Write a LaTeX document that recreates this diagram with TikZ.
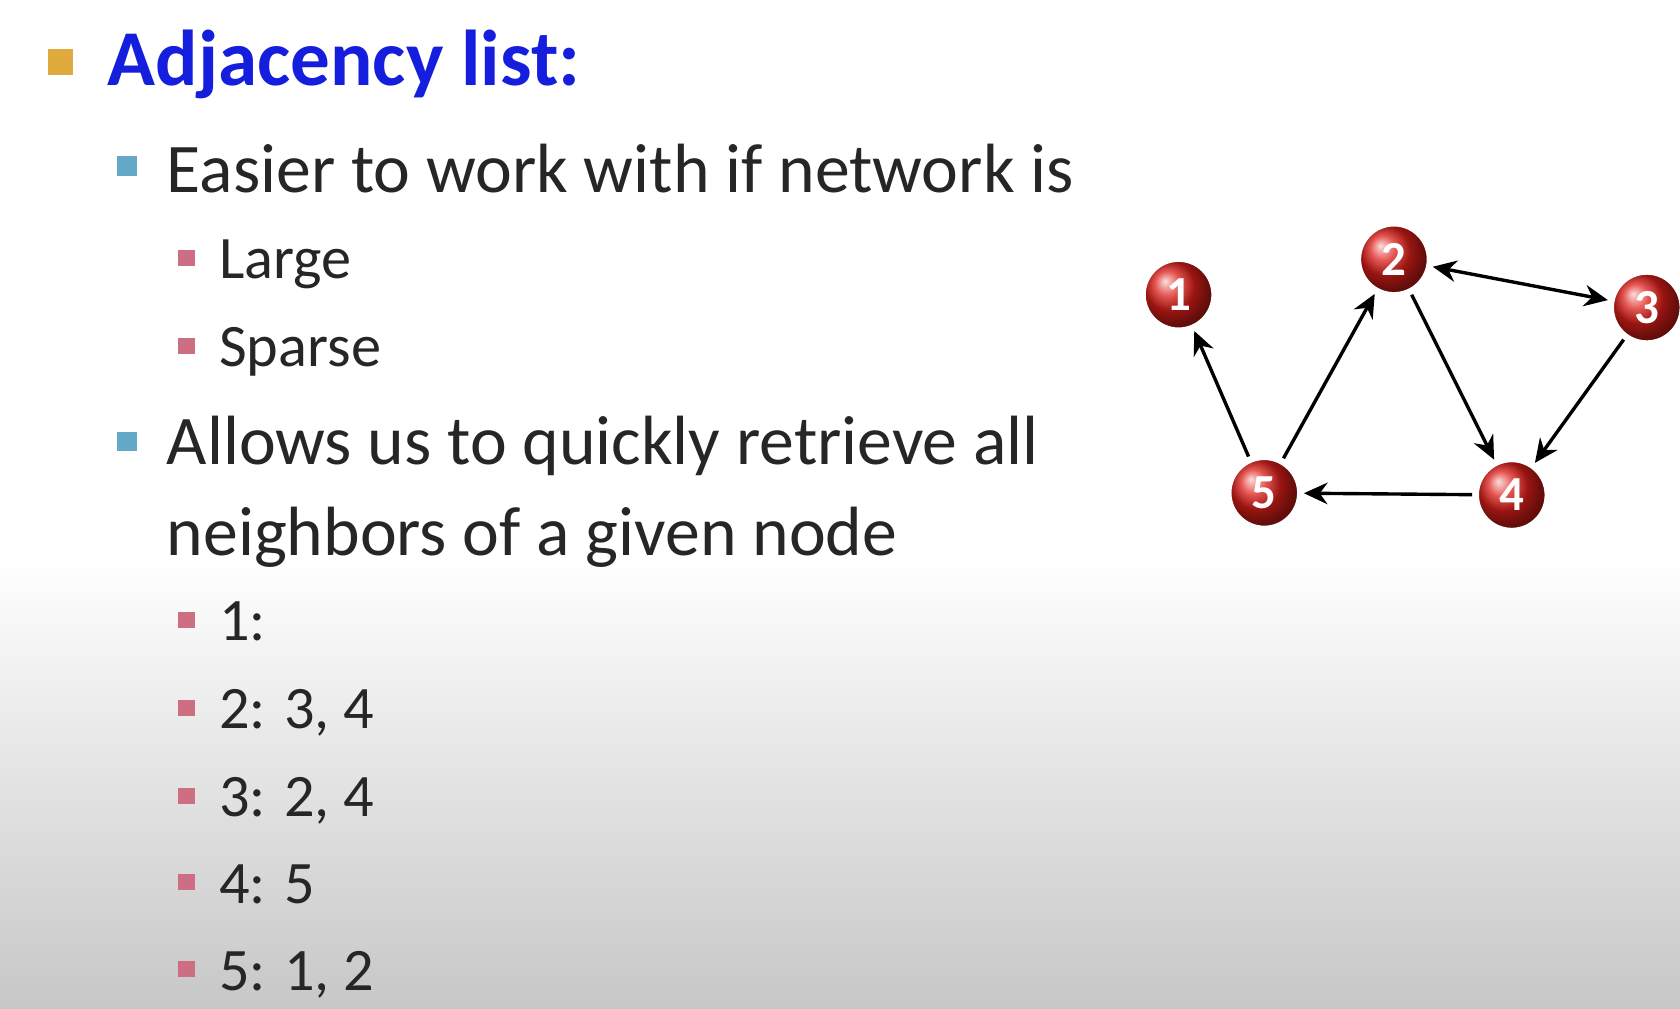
\documentclass[tikz,border=0pt]{standalone}
\usepackage{fontspec}
\setmainfont{Carlito}
\usetikzlibrary{arrows.meta}
\definecolor{titleblue}{RGB}{20,30,220}
\definecolor{bulorange}{RGB}{225,170,60}
\definecolor{bulblue}{RGB}{100,170,200}
\definecolor{bulpink}{RGB}{205,110,130}
\definecolor{nodered}{RGB}{220,30,25}
\tikzset{
  lvlzero/.style={anchor=base west,font=\fontsize{21}{25}\selectfont\bfseries,text=titleblue,inner sep=0},
  lvlone/.style={anchor=base west,font=\fontsize{18.5}{22}\selectfont,text=black!85,inner sep=0,align=left},
  lvltwo/.style={anchor=base west,font=\fontsize{16}{19}\selectfont,text=black!85,inner sep=0},
  gnode/.style={circle,minimum size=0.64cm,inner sep=0,ball color=nodered,draw=white,line width=0.8pt,text=white,font=\fontsize{13}{13}\selectfont\bfseries},
  edge/.style={-{Stealth[length=2.2mm,width=2mm]},line width=0.9pt,shorten >=1pt,shorten <=1pt},
  sq/.style={inner sep=0,minimum size=#1},
}
\begin{document}
\begin{tikzpicture}[x=0.01cm,y=-0.01cm]
\useasboundingbox (0,0) rectangle (1568,941);
\fill[white] (0,0) rectangle (1568,520);
\shade[top color=white,bottom color=black!22] (0,520) rectangle (1568,941);
% bullets
\fill[bulorange] (45,46) rectangle (68,70);
\node[lvlzero] (t) at (100,80) {Adjacency list:};
\fill[bulblue] (109,146) rectangle (128,164);
\node[lvlone] (a) at (155,180) {Easier to work with if network is};
\fill[bulpink] (166,233) rectangle (182,248);
\node[lvltwo] (b) at (204,260) {Large};
\fill[bulpink] (166,315) rectangle (182,330);
\node[lvltwo] (c) at (204,342) {Sparse};
\fill[bulblue] (109,403) rectangle (128,421);
\node[lvlone,anchor=north west] (d) at (155,388) {Allows us to quickly retrieve all\\[2pt]neighbors of a given node};
\foreach \y/\t [count=\i] in {598/1:,680/{2: 3, 4},762/{3: 2, 4},843/{4: 5},924/{5: 1, 2}}{
  \fill[bulpink] (166,\y-27) rectangle (182,\y-12);
  \node[lvltwo] (l\i) at (204,\y) {\t};
}
% graph
\node[gnode] (n1) at (1100,275) {1};
\node[gnode] (n2) at (1301,242) {2};
\node[gnode] (n3) at (1537,287) {3};
\node[gnode] (n4) at (1411,462) {4};
\node[gnode] (n5) at (1180,460) {5};
\draw[edge,{Stealth[length=2.2mm,width=2mm]}-{Stealth[length=2.2mm,width=2mm]}] (n2) -- (n3);
\draw[edge] (n2) -- (n4);
\draw[edge] (n3) -- (n4);
\draw[edge] (n4) -- (n5);
\draw[edge] (n5) -- (n1);
\draw[edge] (n5) -- (n2);
\end{tikzpicture}
\end{document}
